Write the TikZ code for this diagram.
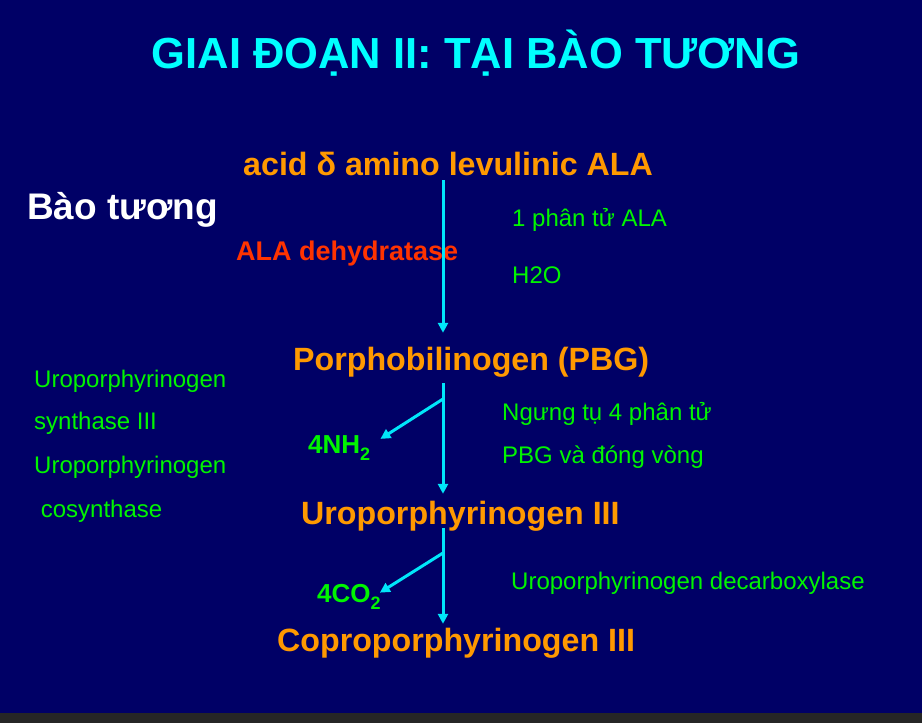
\documentclass[tikz,border=0pt]{standalone}
\usepackage{fontspec}
\setmainfont{Liberation Sans}
\usetikzlibrary{positioning,arrows.meta}
\definecolor{slidebg}{RGB}{0,0,102}
\definecolor{stripgray}{RGB}{38,38,38}
\definecolor{titlecyan}{RGB}{0,255,255}
\definecolor{arrowcyan}{RGB}{0,230,250}
\definecolor{chemorange}{RGB}{255,153,0}
\definecolor{notegreen}{RGB}{0,245,0}
\definecolor{enzred}{RGB}{255,51,0}
\newcommand{\chemsub}[1]{\raisebox{-7pt}{\fontsize{18}{18}\selectfont #1}}
\tikzset{
  chem/.style={anchor=base west,inner sep=0pt,text=chemorange,text height=23pt,text depth=7pt,font=\fontsize{32.2}{36}\selectfont\bfseries},
  note/.style={anchor=base west,inner sep=0pt,text=notegreen,font=\fontsize{24}{28}\selectfont},
  lost/.style={anchor=base west,inner sep=0pt,text=notegreen,font=\fontsize{26}{30}\selectfont\bfseries},
  flow/.style={draw=arrowcyan,line width=3pt,-{Triangle[length=10pt,width=10pt]}}
}

\begin{document}
\begin{tikzpicture}[x=1pt,y=-1pt]
\fill[slidebg] (0,0) rectangle (922,713);
\fill[stripgray] (0,713) rectangle (922,723);
\node[anchor=base,inner sep=0pt,text=titlecyan,font=\fontsize{43.5}{48}\selectfont\bfseries] (title) at (476,68) {GIAI ĐOẠN II: TẠI BÀO TƯƠNG};
\node[anchor=base west,inner sep=0pt,text=white,font=\fontsize{37}{40}\selectfont\bfseries] (cyto) at (27,219) {Bào tương};
% chain of products
\node[chem] (ala) at (243,175) {acid δ amino levulinic ALA};
\node[chem] (pbg) at (293,370) {Porphobilinogen (PBG)};
\node[chem] (uro) at (301,524) {Uroporphyrinogen III};
\node[chem] (copro) at (277,651) {Coproporphyrinogen III};
% enzymes and notes
\node[anchor=base west,inner sep=0pt,text=enzred,font=\fontsize{27}{31}\selectfont\bfseries] (dehyd) at (236,260) {ALA dehydratase};
\node[note] (mol) at (512,226) {1 phân tử ALA};
\node[note] (water) at (512,283) {H2O};
\node[note] (syn1) at (34,387) {Uroporphyrinogen};
\node[note] (syn2) at (34,429) {synthase III};
\node[note] (syn3) at (34,473) {Uroporphyrinogen};
\node[note] (syn4) at (34,517) {\ cosynthase};
\node[note] (cond1) at (502,420) {Ngưng tụ 4 phân tử};
\node[note] (cond2) at (502,463) {PBG và đóng vòng};
\node[note] (decarb) at (511,589) {Uroporphyrinogen decarboxylase};
% released molecules
\node[lost] (nh) at (308,453) {4NH\chemsub{2}};
\node[lost] (co) at (317,602) {4CO\chemsub{2}};
\coordinate (axis) at (443,0);
\coordinate (fork1) at (443,399);
\coordinate (fork2) at (443,553);
\draw[flow,shorten <=-2pt,shorten >=14pt] (ala.south -| axis) -- (pbg.north -| axis);
\draw[flow,shorten <=6pt,shorten >=7pt] (pbg.south -| axis) -- (uro.north -| axis);
\draw[flow,shorten <=-3pt,shorten >=4pt] (uro.south -| axis) -- (copro.north -| axis);
\draw[flow] (fork1) -- ([shift={(10,4)}]nh.north east);
\draw[flow] (fork2) -- ([shift={(-1,9)}]co.north east);
\end{tikzpicture}
\end{document}
